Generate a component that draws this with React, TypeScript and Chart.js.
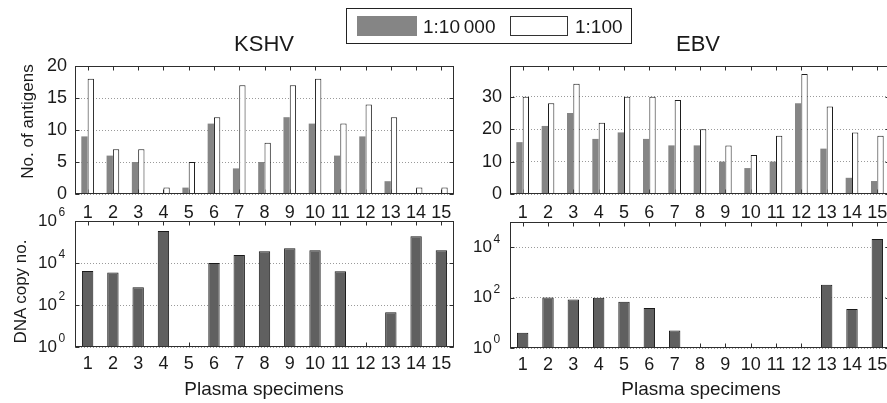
import React, { useEffect, useRef } from "react";
import { Chart, registerables } from "chart.js";

Chart.register(...registerables);

// ---------- data ----------
const specimens = ["1", "2", "3", "4", "5", "6", "7", "8", "9", "10", "11", "12", "13", "14", "15"];
const kshvAntigens10000 = [9, 6, 5, 0, 1, 11, 4, 5, 12, 11, 6, 9, 2, 0, 0];
const kshvAntigens100 = [18, 7, 7, 1, 5, 12, 17, 8, 17, 18, 11, 14, 12, 1, 1];
const ebvAntigens10000 = [16, 21, 25, 17, 19, 17, 15, 15, 10, 8, 10, 28, 14, 5, 4];
const ebvAntigens100 = [30, 28, 34, 22, 30, 30, 29, 20, 15, 12, 18, 37, 27, 19, 18];
const kshvDnaCopies = [4200, 3500, 700, 330000, null, 10000, 24000, 36000, 50000, 40000, 4000, null, 45, 186000, 40000];
const ebvDnaCopies = [4, 100, 85, 98, 69, 39, 5, null, null, null, null, null, 320, 35, 21000];
const kshvAntigenTicks = [0, 5, 10, 15, 20];
const ebvAntigenTicks = [0, 10, 20, 30];
const kshvDnaTicks = [1, 1e2, 1e4, 1e6];
const ebvDnaTicks = [1, 1e2, 1e4];
const seriesLabels = ["1:10\u2009000", "1:100"];

// ---------- styling ----------
const FONT = "'Liberation Sans', Arial, Helvetica, sans-serif";
const INK = "#1a1a1a";
const CW = 900;
const CH = 403;
const GRAY_TOP = "#858585";
const GRAY_BOTTOM = "#606060";

function edges(a: any) {
  return {
    L: Math.round(a.left) + 0.5,
    R: Math.round(a.right) - 0.5,
    T: Math.round(a.top) + 0.5,
    B: Math.round(a.bottom) - 0.5,
  };
}

const framePlugin = {
  id: "frame",
  beforeDatasetsDraw(chart: any) {
    // inward tick marks, drawn beneath the bars
    const { ctx, chartArea: a } = chart;
    const xs = chart.scales.x;
    const ys = chart.scales.y;
    const { L, R, T, B } = edges(a);
    const tl = 4;
    ctx.save();
    ctx.strokeStyle = "#2e2e2e";
    ctx.lineWidth = 1;
    ctx.beginPath();
    xs.ticks.forEach((_t: any, i: number) => {
      const px = Math.round(xs.getPixelForTick(i)) + 0.5;
      ctx.moveTo(px, B);
      ctx.lineTo(px, B - tl);
      ctx.moveTo(px, T);
      ctx.lineTo(px, T + tl);
    });
    ys.ticks.forEach((t: any) => {
      const py = Math.round(ys.getPixelForValue(t.value)) + 0.5;
      ctx.moveTo(L, py);
      ctx.lineTo(L + tl, py);
      ctx.moveTo(R, py);
      ctx.lineTo(R - tl, py);
    });
    ctx.stroke();
    ctx.restore();
  },
  afterDraw(chart: any, _args: any, opts: any) {
    const { ctx, chartArea: a } = chart;
    const ys = chart.scales.y;
    const { L, R, T, B } = edges(a);
    ctx.save();
    ctx.strokeStyle = "#2e2e2e";
    ctx.lineWidth = 1;
    ctx.strokeRect(L, T, R - L, B - T);
    if (opts && opts.powerLabels) {
      ctx.fillStyle = INK;
      ys.ticks.forEach((t: any) => {
        const py = ys.getPixelForValue(t.value);
        const exp = Math.round(Math.log10(t.value));
        ctx.font = `17px ${FONT}`;
        ctx.textAlign = "right";
        ctx.textBaseline = "middle";
        ctx.fillText("10", a.left - 18, py);
        ctx.font = `12px ${FONT}`;
        ctx.textAlign = "left";
        ctx.fillText(String(exp), a.left - 16.5, py - 8);
      });
    }
    ctx.restore();
  },
};

type Area = { left: number; top: number; right: number; bottom: number };

function buildConfig(p: {
  datasets: any[];
  log: boolean;
  min: number;
  max: number;
  yTicks: number[];
  area: Area;
  xPad: number;
  catPct: number;
}): any {
  return {
    type: "bar",
    data: { labels: specimens, datasets: p.datasets },
    plugins: [framePlugin],
    options: {
      responsive: false,
      animation: false,
      events: [],
      layout: {
        padding: {
          left: 0,
          top: p.area.top,
          right: CW - p.area.right,
          bottom: 0,
        },
      },
      datasets: { bar: { categoryPercentage: p.catPct, barPercentage: 1 } },
      plugins: {
        legend: { display: false },
        tooltip: { enabled: false },
        frame: { powerLabels: p.log },
      },
      scales: {
        x: {
          type: "category",
          offset: true,
          grid: { display: false, drawTicks: false },
          border: { display: false },
          ticks: {
            font: { family: FONT, size: 18 },
            color: INK,
            padding: p.xPad,
            maxRotation: 0,
            minRotation: 0,
            autoSkip: false,
          },
          afterFit(s: any) {
            s.height = CH - p.area.bottom;
          },
        },
        y: {
          type: p.log ? "logarithmic" : "linear",
          min: p.min,
          max: p.max,
          grid: { color: "#9a9a9a", lineWidth: 1, drawTicks: false },
          border: { display: false, dash: [1, 2] },
          ticks: {
            display: !p.log,
            font: { family: FONT, size: 18 },
            color: INK,
            padding: 8,
          },
          afterBuildTicks(s: any) {
            s.ticks = p.yTicks.map((v) => ({ value: v }));
          },
          afterFit(s: any) {
            s.width = p.area.left;
          },
        },
      },
    },
  };
}

const grayTop = (data: number[]) => ({
  label: seriesLabels[0],
  data,
  backgroundColor: GRAY_TOP,
  borderColor: "#7a7a7a",
  borderWidth: 0,
});
const whiteTop = (data: number[]) => ({
  label: seriesLabels[1],
  data,
  backgroundColor: "#ffffff",
  borderColor: "#1e1e1e",
  borderWidth: 1,
});
const dnaBars = (data: (number | null)[]) => ({
  label: "DNA copy no.",
  data,
  backgroundColor: GRAY_BOTTOM,
  borderColor: "#1a1a1a",
  borderWidth: 1,
});

const configs = [
  () =>
    buildConfig({
      datasets: [grayTop(kshvAntigens10000), whiteTop(kshvAntigens100)],
      log: false,
      min: 0,
      max: 20,
      yTicks: kshvAntigenTicks,
      area: { left: 75, top: 66, right: 454, bottom: 194 },
      xPad: 8,
      catPct: 0.5,
    }),
  () =>
    buildConfig({
      datasets: [grayTop(ebvAntigens10000), whiteTop(ebvAntigens100)],
      log: false,
      min: 0,
      max: 39.5,
      yTicks: ebvAntigenTicks,
      area: { left: 510, top: 66, right: 890, bottom: 194 },
      xPad: 8,
      catPct: 0.5,
    }),
  () =>
    buildConfig({
      datasets: [dnaBars(kshvDnaCopies)],
      log: true,
      min: 1,
      max: 1e6,
      yTicks: kshvDnaTicks,
      area: { left: 75, top: 221, right: 454, bottom: 347 },
      xPad: 6,
      catPct: 0.45,
    }),
  () =>
    buildConfig({
      datasets: [dnaBars(ebvDnaCopies)],
      log: true,
      min: 1,
      max: 1e5,
      yTicks: ebvDnaTicks,
      area: { left: 510, top: 222, right: 890, bottom: 348 },
      xPad: 6,
      catPct: 0.45,
    }),
];

function Panel({ make }: { make: () => any }) {
  const ref = useRef<HTMLCanvasElement | null>(null);
  useEffect(() => {
    if (!ref.current) return;
    const chart = new Chart(ref.current, make());
    return () => chart.destroy();
  }, [make]);
  return (
    <canvas
      ref={ref}
      width={CW}
      height={CH}
      style={{ position: "absolute", left: 0, top: 0, width: CW, height: CH }}
    />
  );
}

function Text({
  x,
  baseline,
  size,
  align = "left",
  children,
}: {
  x: number;
  baseline: number;
  size: number;
  align?: "left" | "center";
  children: React.ReactNode;
}) {
  const w = 400;
  return (
    <div
      style={{
        position: "absolute",
        left: align === "center" ? x - w / 2 : x,
        width: align === "center" ? w : undefined,
        textAlign: align,
        top: baseline - 0.8465 * size,
        fontSize: size,
        lineHeight: `${size}px`,
        fontFamily: FONT,
        color: INK,
        whiteSpace: "nowrap",
      }}
    >
      {children}
    </div>
  );
}

function RotText({ baselineX, cy, size, children }: { baselineX: number; cy: number; size: number; children: React.ReactNode }) {
  const w = 300;
  const cx = baselineX - 0.3465 * size;
  return (
    <div
      style={{
        position: "absolute",
        left: cx - w / 2,
        top: cy - size / 2,
        width: w,
        height: size,
        lineHeight: `${size}px`,
        fontSize: size,
        fontFamily: FONT,
        color: INK,
        textAlign: "center",
        whiteSpace: "nowrap",
        transform: "rotate(-90deg)",
        transformOrigin: "50% 50%",
      }}
    >
      {children}
    </div>
  );
}

export default function App() {
  useEffect(() => {
    document.body.style.margin = "0";
    document.body.style.overflow = "hidden";
  }, []);
  return (
    <div
      style={{
        position: "fixed",
        left: 0,
        top: 0,
        width: 887,
        height: 403,
        overflow: "hidden",
        background: "#ffffff",
      }}
    >
      {configs.map((make, i) => (
        <Panel key={i} make={make} />
      ))}

      {/* legend */}
      <div
        style={{
          position: "absolute",
          left: 346,
          top: 8,
          width: 286,
          height: 36,
          border: "1.5px solid #222",
          boxSizing: "border-box",
          background: "#fff",
        }}
      />
      <div style={{ position: "absolute", left: 357, top: 16, width: 60, height: 20, background: GRAY_TOP }} />
      <Text x={423} baseline={33.3} size={19}>
        {seriesLabels[0]}
      </Text>
      <div
        style={{
          position: "absolute",
          left: 510,
          top: 16,
          width: 58,
          height: 20,
          background: "#fff",
          border: "1px solid #333",
          boxSizing: "border-box",
        }}
      />
      <Text x={575} baseline={33.3} size={19}>
        {seriesLabels[1]}
      </Text>

      {/* titles */}
      <Text x={264} baseline={51.7} size={22} align="center">
        KSHV
      </Text>
      <Text x={698} baseline={51.7} size={22} align="center">
        EBV
      </Text>

      {/* axis titles */}
      <RotText baselineX={33.3} cy={121.5} size={17}>
        No. of antigens
      </RotText>
      <RotText baselineX={25.7} cy={291.5} size={17}>
        DNA copy no.
      </RotText>
      <Text x={264} baseline={395.3} size={19} align="center">
        Plasma specimens
      </Text>
      <Text x={701} baseline={395.3} size={19} align="center">
        Plasma specimens
      </Text>
    </div>
  );
}
